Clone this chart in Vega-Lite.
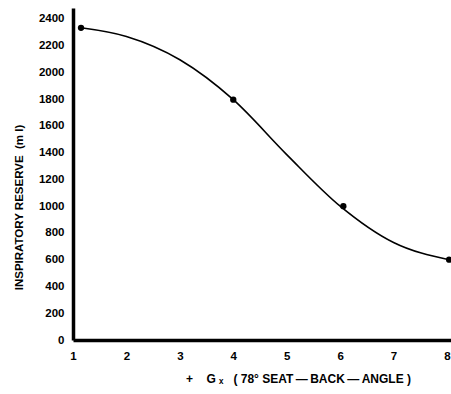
{
  "$schema": "https://vega.github.io/schema/vega-lite/v6.json",
  "autosize": {"type": "none"},
  "padding": {"left": 73, "top": 8, "right": 0, "bottom": 54},
  "width": 378,
  "height": 332,
  "background": "white",
  "config": {
    "view": {"stroke": null},
    "font": "Liberation Sans",
    "axis": {
      "grid": false,
      "domainColor": "black",
      "domainWidth": 3.5,
      "ticks": false,
      "labelFont": "Liberation Sans",
      "labelFontWeight": "bold",
      "labelFontSize": 11.5,
      "labelColor": "black",
      "format": "d",
      "titleFont": "Liberation Sans",
      "titleFontWeight": "bold",
      "titleFontSize": 11.5,
      "titleColor": "black"
    }
  },
  "datasets": {
    "curve": [
      {"g": 1.15, "ml": 2332},
      {"g": 2, "ml": 2267},
      {"g": 3, "ml": 2093},
      {"g": 4, "ml": 1795},
      {"g": 5, "ml": 1385},
      {"g": 6, "ml": 1000},
      {"g": 7, "ml": 728},
      {"g": 8.04, "ml": 600}
    ],
    "points": [
      {"g": 1.15, "ml": 2332},
      {"g": 4.0, "ml": 1795},
      {"g": 6.06, "ml": 1000},
      {"g": 8.04, "ml": 600}
    ]
  },
  "layer": [
    {
      "data": {"name": "curve"},
      "mark": {"type": "line", "interpolate": "monotone", "color": "black", "strokeWidth": 1.6, "clip": false},
      "encoding": {
        "x": {
          "field": "g", "type": "quantitative",
          "scale": {"domain": [1, 8.075], "nice": false, "zero": false},
          "axis": {
            "values": [1, 2, 3, 4, 5, 6, 7, 8],
            "labelOverlap": false,
            "labelPadding": 10,
            "labelFlush": false,
            "title": "+\u00a0\u00a0\u00a0\u00a0G\u00a0ₓ\u00a0\u00a0\u00a0(\u00a078° SEAT\u2009—\u2009BACK\u2009—\u2009ANGLE\u00a0)",
            "titleFontSize": 12,
            "titlePadding": 12,
            "titleX": 225
          }
        },
        "y": {
          "field": "ml", "type": "quantitative",
          "scale": {"domain": [0, 2480], "nice": false},
          "axis": {
            "values": [0, 200, 400, 600, 800, 1000, 1200, 1400, 1600, 1800, 2000, 2200, 2400],
            "labelOverlap": false,
            "tickCount": 13,
            "labelPadding": 9,
            "title": "INSPIRATORY RESERVE\u00a0\u00a0(m l)",
            "titleX": -49,
            "titleY": 199
          }
        }
      }
    },
    {
      "data": {"name": "points"},
      "mark": {"type": "point", "filled": true, "color": "black", "size": 40, "opacity": 1, "clip": false},
      "encoding": {
        "x": {"field": "g", "type": "quantitative"},
        "y": {"field": "ml", "type": "quantitative"}
      }
    }
  ]
}
